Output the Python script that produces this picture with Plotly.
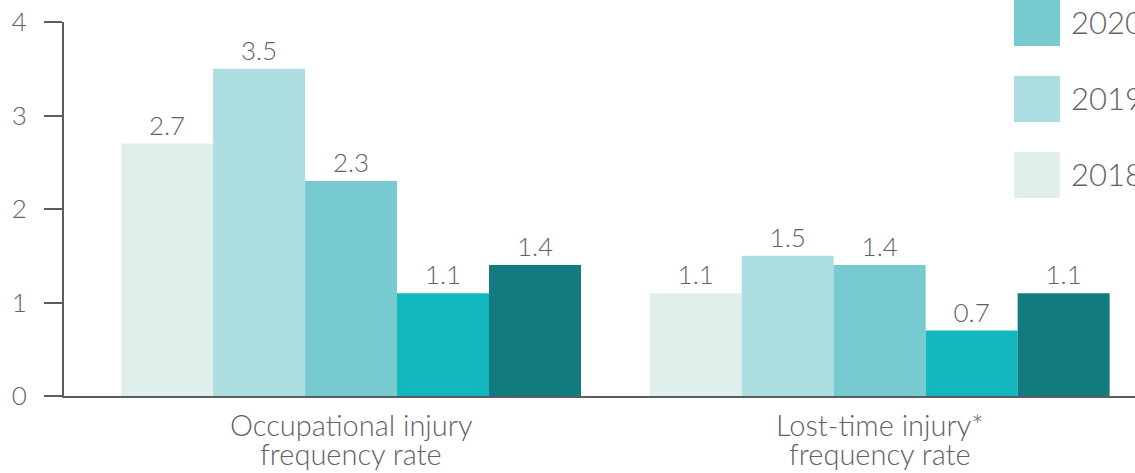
import plotly.graph_objects as go

# Injury frequency rates by year
categories = ["Occupational injury", "Lost-time injury*"]
category_second_line = ["frequency rate", "frequency rate"]
years = ["2018", "2019", "2020", "2021", "2022"]
values = {
    "2018": [2.7, 1.1],
    "2019": [3.5, 1.5],
    "2020": [2.3, 1.4],
    "2021": [1.1, 0.7],
    "2022": [1.4, 1.1],
}
colors = {
    "2018": "#DFF0EC",
    "2019": "#ACDDE0",
    "2020": "#77CBD0",
    "2021": "#12B8BD",
    "2022": "#137A80",
}
y_ticks = [0, 1, 2, 3, 4]

W, H = 1135, 473
M_L, M_R, M_T, M_B = 64, 0, 22, 77
FONT = "Lato"
WEIGHT = 300
GREY = "#5F6367"
AXIS = "#5A5E62"

fig = go.Figure()
for yr in years:
    fig.add_trace(go.Bar(
        name=yr,
        x=categories,
        y=values[yr],
        marker=dict(color=colors[yr], line=dict(width=0)),
        text=[f"{v:.1f}" for v in values[yr]],
        textposition="outside",
        textfont=dict(family=FONT, size=26, color=GREY, weight=WEIGHT),
        cliponaxis=False,
        showlegend=False,
    ))

plot_w = W - M_L - M_R
plot_h = H - M_T - M_B


def px_x(p):
    return (p - M_L) / plot_w


def px_y(p):
    return (H - M_B - p) / plot_h


# Two-line category captions under the axis, tightly spaced
for cat, line2 in zip(categories, category_second_line):
    for text, yc in ((cat, 424), (line2, 453)):
        fig.add_annotation(xref="x", yref="paper", x=cat, y=px_y(yc),
                           text=text, showarrow=False,
                           xanchor="center", yanchor="middle",
                           font=dict(family=FONT, size=29, color=GREY, weight=WEIGHT))

# Legend built from swatches and labels (newest year on top)
step = 76
top_2020 = 0
for i, yr in enumerate(reversed(years)):
    top = top_2020 + (i - 2) * step
    if top + 46 < 0:
        continue
    fig.add_shape(type="rect", xref="paper", yref="paper",
                  x0=px_x(1014), x1=px_x(1060), y0=px_y(top + 46), y1=px_y(top),
                  fillcolor=colors[yr], line=dict(width=0), layer="above")
    fig.add_annotation(xref="paper", yref="paper", x=px_x(1069), y=px_y(top + 22),
                       text=yr, showarrow=False, xanchor="left", yanchor="middle",
                       font=dict(family=FONT, size=31, color=GREY, weight=WEIGHT))

fig.update_layout(
    width=W, height=H,
    margin=dict(l=M_L, r=M_R, t=M_T, b=M_B, autoexpand=False),
    barmode="group",
    bargap=0.13,
    bargroupgap=0,
    plot_bgcolor="white",
    paper_bgcolor="white",
    font=dict(family=FONT, color=GREY),
)
fig.update_xaxes(
    range=[-0.543, 1.483],
    showline=True, linecolor=AXIS, linewidth=2,
    ticks="", showgrid=False, showticklabels=False,
)
fig.update_yaxes(
    range=[0, 4],
    tickvals=y_ticks,
    showline=True, linecolor=AXIS, linewidth=2,
    ticks="outside", ticklen=18, tickwidth=2, tickcolor=AXIS,
    ticklabelstandoff=12,
    showgrid=False, zeroline=False,
    tickfont=dict(family=FONT, size=26, color=GREY, weight=WEIGHT),
)

fig.write_html("out.html")
